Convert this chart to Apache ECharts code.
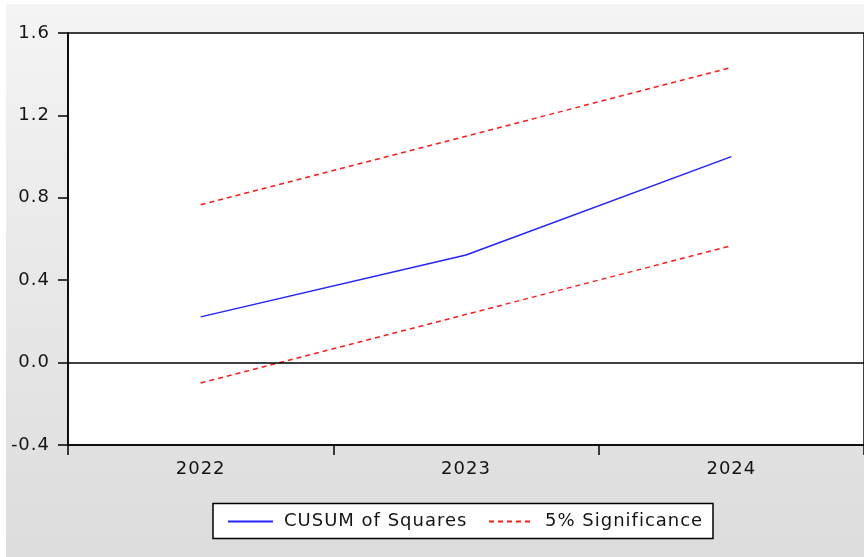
<!DOCTYPE html>
<html>
<head>
<meta charset="utf-8">
<script src="https://cdn.jsdelivr.net/npm/echarts@6/dist/echarts.min.js"></script>
<style>
  html, body { margin: 0; padding: 0; background: #fff; }
  #chart { width: 864px; height: 557px; }
</style>
</head>
<body>
<div id="chart"></div>
<script>
// Years on the horizontal axis
const years = ['2022', '2023', '2024'];
// Cumulative sum of squared recursive residuals
const cusumSq = [0.222, 0.522, 1.0];
// 5% significance band
const upperBound = [0.766, 1.099, 1.433];
const lowerBound = [-0.099, 0.234, 0.567];
// Value-axis range
const yMin = -0.4, yMax = 1.6, yStep = 0.4;

const FONT = 'DejaVu Sans';
const TEXT = '#141414';

// Slightly open tracking for all canvas text (measuring and drawing alike)
(function () {
  const proto = CanvasRenderingContext2D.prototype;
  const desc = Object.getOwnPropertyDescriptor(proto, 'font');
  if (desc && desc.set && 'letterSpacing' in proto) {
    Object.defineProperty(proto, 'font', {
      configurable: true,
      get: desc.get,
      set: function (v) { desc.set.call(this, v); this.letterSpacing = '1px'; }
    });
  }
})();

const chart = echarts.init(document.getElementById('chart'), null, { renderer: 'canvas' });

const legendText = { fontFamily: FONT, fontSize: 18, color: TEXT, padding: [0, 0, 0, 6] };
// Legend keys show only the line stroke, no marker
const legendBase = {
  itemWidth: 45, itemHeight: 14, padding: 0,
  selectedMode: false,
  itemStyle: { opacity: 0 },
  textStyle: legendText
};

chart.setOption({
  animation: false,
  backgroundColor: '#ffffff',
  textStyle: { fontFamily: FONT },
  graphic: [
    {
      type: 'rect', z: -10, silent: true,
      shape: { x: 6, y: 4, width: 858, height: 553 },
      style: {
        fill: new echarts.graphic.LinearGradient(0, 0, 0, 1, [
          { offset: 0, color: '#f4f4f4' },
          { offset: 1, color: '#dcdcdc' }
        ])
      }
    },
    {
      type: 'rect', z: 1, silent: true,
      shape: { x: 213, y: 503.5, width: 500, height: 35 },
      style: { fill: '#ffffff', stroke: '#000000', lineWidth: 1.5 }
    }
  ],
  grid: {
    show: true,
    left: 68, top: 33, right: -5, bottom: 112,
    backgroundColor: '#ffffff',
    borderColor: '#000000',
    borderWidth: 1.5,
    containLabel: false
  },
  legend: [
    Object.assign({ data: ['CUSUM of Squares'], left: 227, top: 512 }, legendBase),
    Object.assign({ data: ['5% Significance'], left: 488, top: 512 }, legendBase)
  ],
  xAxis: {
    type: 'category',
    data: years,
    boundaryGap: true,
    axisLine: { show: true, onZero: false, lineStyle: { color: '#000', width: 1.5 } },
    axisTick: { show: true, length: 10, inside: false, lineStyle: { color: '#000', width: 1.5 } },
    axisLabel: { fontFamily: FONT, fontSize: 18, color: TEXT, margin: 15 },
    splitLine: { show: false }
  },
  yAxis: {
    type: 'value',
    min: yMin, max: yMax, interval: yStep,
    axisLine: { show: true, lineStyle: { color: '#000', width: 1.5 } },
    axisTick: { show: true, length: 10, inside: false, lineStyle: { color: '#000', width: 1.5 } },
    axisLabel: {
      fontFamily: FONT, fontSize: 18, color: TEXT, margin: 18,
      padding: [0, 0, 5, 0],
      formatter: v => v.toFixed(1)
    },
    splitLine: { show: false }
  },
  series: [
    {
      name: 'CUSUM of Squares',
      type: 'line',
      data: cusumSq,
      symbol: 'none',
      lineStyle: { color: '#2222ff', width: 1.5 },
      itemStyle: { color: '#2222ff' },
      z: 3,
      markLine: {
        silent: true,
        symbol: 'none',
        label: { show: false },
        lineStyle: { color: '#000', width: 1.5, type: 'solid' },
        data: [{ yAxis: 0 }]
      }
    },
    {
      name: '5% Significance',
      type: 'line',
      data: upperBound,
      symbol: 'none',
      lineStyle: { color: '#ff1a1a', width: 1.5, type: [5, 4] },
      itemStyle: { color: '#ff1a1a' }
    },
    {
      name: '5% Significance',
      type: 'line',
      data: lowerBound,
      symbol: 'none',
      lineStyle: { color: '#ff1a1a', width: 1.5, type: [5, 4] },
      itemStyle: { color: '#ff1a1a' }
    }
  ]
});
</script>
</body>
</html>
